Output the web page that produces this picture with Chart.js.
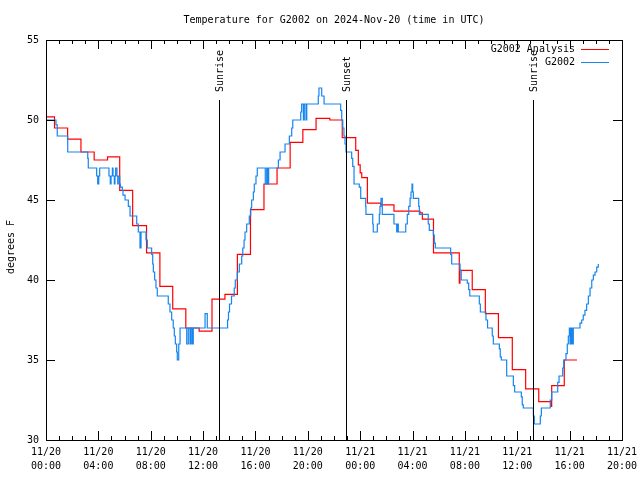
<!DOCTYPE html>
<html>
<head>
<meta charset="utf-8">
<script src="https://cdn.jsdelivr.net/npm/chart.js@4.4.1/dist/chart.umd.min.js"></script>
<style>
html, body { margin: 0; padding: 0; background: #fff; }
#wrap { width: 640px; height: 480px; }
</style>
</head>
<body>
<div id="wrap"><canvas id="chart" width="640" height="480"></canvas></div>
<script>
// hours since 2024-11-20 00:00 UTC
var analysisHours = [0, 0.65, 1.65, 2.67, 3.68, 4.7, 5.63, 6.62, 7.68, 8.7, 9.68,
    10.68, 11.7, 12.68, 13.67, 14.62, 15.62, 16.65, 17.65, 18.65, 19.62,
    20.63, 21.68, 22.63, 23.66, 23.86, 24.0, 24.12, 24.55, 25.57, 26.58,
    28.57, 28.75, 29.6, 31.57, 31.62, 32.56, 33.56, 34.56, 35.62, 36.64,
    37.64, 38.58, 38.63, 39.59, 40.56];
var analysisTemps = [50.2, 49.5, 48.8, 48.0, 47.5, 47.7, 45.6, 43.4, 41.7, 39.6, 38.2,
    37.0, 36.8, 38.8, 39.1, 41.6, 44.4, 46.0, 47.0, 48.6, 49.4,
    50.1, 50.0, 48.9, 48.1, 47.2, 46.7, 46.4, 44.8, 44.7, 44.3,
    44.2, 43.8, 41.7, 39.8, 40.6, 39.4, 37.9, 36.4, 34.4, 33.2,
    32.4, 32.1, 33.4, 35.0, 35.0];

var obsHours = [0, 0.76, 0.86, 1.66, 3.19, 3.23, 3.87, 3.95, 4.03, 4.1,
    4.81, 4.91, 4.97, 5.07, 5.12, 5.22, 5.27, 5.32, 5.42, 5.48,
    5.52, 5.63, 5.68, 5.83, 5.88, 6.04, 6.29, 6.42, 6.93, 7.05,
    7.18, 7.26, 7.64, 7.74, 8.07, 8.15, 8.2, 8.3, 8.4, 8.5,
    9.34, 9.47, 9.6, 9.72, 9.8, 9.88, 9.98, 10.03, 10.14, 10.24,
    10.75, 10.87, 11.0, 11.08, 11.18, 11.25, 12.15, 12.32, 13.87, 13.94,
    14.02, 14.17, 14.38, 14.46, 14.61, 14.77, 14.95, 15.03, 15.13, 15.2,
    15.33, 15.53, 15.64, 15.71, 15.84, 15.91, 16.04, 16.14, 16.75, 16.86,
    16.94, 17.01, 17.75, 17.88, 18.26, 18.59, 18.77, 18.85, 19.46, 19.53,
    19.66, 19.73, 19.86, 19.92, 20.8, 20.85, 21.06, 21.24, 22.51, 22.59,
    22.67, 22.76, 22.84, 22.92, 23.35, 23.43, 23.53, 23.93, 24.04, 24.42,
    24.44, 24.96, 25.0, 25.31, 25.46, 25.51, 25.59, 25.69, 26.58, 26.79,
    26.87, 26.91, 27.48, 27.6, 27.71, 27.81, 27.88, 27.96, 28.01, 28.06,
    28.47, 28.52, 29.2, 29.28, 29.59, 29.66, 29.74, 30.91, 30.99, 31.63,
    31.72, 32.18, 32.29, 32.37, 33.1, 33.18, 33.61, 33.73, 34.09, 34.17,
    34.63, 34.7, 34.78, 35.19, 35.7, 35.8, 36.31, 36.38, 36.46, 37.23,
    37.3, 37.76, 37.84, 38.52, 38.63, 39.09, 39.19, 39.47, 39.55, 39.72,
    39.82, 39.9, 39.98, 40.03, 40.08, 40.13, 40.18, 40.23, 40.28, 40.79,
    40.92, 41.04, 41.17, 41.3, 41.43, 41.56, 41.69, 41.81, 41.94, 42.07,
    42.19];
var obsTemps = [50.0, 49.7, 49.0, 48.0, 47.6, 47.0, 46.5, 46.0, 46.5, 47.0,
    46.5, 46.0, 46.5, 47.0, 46.5, 46.0, 46.5, 47.0, 46.5, 46.0,
    46.5, 46.0, 45.8, 45.6, 45.3, 45.0, 44.6, 44.0, 43.5, 43.0,
    42.0, 43.0, 42.5, 42.0, 41.6, 41.0, 40.5, 40.0, 39.5, 39.0,
    38.5, 38.0, 37.5, 37.0, 36.5, 36.0, 35.5, 35.0, 36.0, 37.0,
    36.0, 37.0, 36.0, 37.0, 36.0, 37.0, 37.9, 37.0, 37.5, 38.0,
    38.5, 39.0, 39.5, 40.0, 40.5, 41.0, 41.5, 42.0, 42.5, 43.0,
    43.5, 44.0, 44.5, 45.0, 45.5, 46.0, 46.5, 47.0, 46.0, 47.0,
    46.0, 47.0, 47.5, 48.0, 48.5, 49.0, 49.5, 50.0, 50.5, 51.0,
    50.0, 51.0, 50.0, 51.0, 51.5, 52.0, 51.5, 51.0, 50.6, 50.0,
    49.5, 49.0, 48.5, 48.0, 47.6, 47.1, 46.0, 45.8, 45.1, 44.6,
    44.1, 43.5, 43.0, 43.5, 44.1, 44.6, 45.1, 44.1, 43.5, 43.0,
    43.5, 43.0, 43.5, 44.1, 44.6, 45.1, 45.5, 46.0, 45.5, 45.1,
    44.6, 44.1, 43.5, 43.1, 42.8, 42.3, 42.0, 41.6, 41.0, 40.6,
    40.0, 39.8, 39.4, 39.0, 38.5, 38.0, 37.5, 37.0, 36.5, 36.0,
    35.7, 35.2, 35.0, 34.0, 33.4, 33.0, 32.7, 32.2, 32.0, 31.5,
    31.0, 31.5, 32.0, 32.5, 33.0, 33.6, 34.0, 34.5, 35.0, 35.4,
    36.0, 36.5, 37.0, 36.0, 37.0, 36.0, 37.0, 36.0, 37.0, 37.3,
    37.5, 37.8, 38.1, 38.5, 39.0, 39.5, 40.0, 40.3, 40.5, 40.8,
    41.0];

var xTickDates = ['11/20', '11/20', '11/20', '11/20', '11/20', '11/20',
                  '11/21', '11/21', '11/21', '11/21', '11/21', '11/21'];
var xTickTimes = ['00:00', '04:00', '08:00', '12:00', '16:00', '20:00',
                  '00:00', '04:00', '08:00', '12:00', '16:00', '20:00'];

var sunHours = [13.22, 22.92, 37.21];
var sunLabels = ['Sunrise', 'Sunset', 'Sunrise'];

var FONT = '"DejaVu Sans Mono", "Liberation Mono", monospace';
var RED = '#ff0000';
var BLUE = '#1685f0';

function points(xs, ys) {
    return xs.map(function(x, i) { return { x: x, y: ys[i] }; });
}

// frame, inward ticks, sun markers, key and y label in the gnuplot manner
var gnuplotLook = {
    id: 'gnuplotLook',
    afterDatasetsDraw: function(chart) {
        var ctx = chart.ctx, a = chart.chartArea;
        var xs = chart.scales.x, ys = chart.scales.y;
        ctx.save();
        ctx.strokeStyle = '#000';
        ctx.fillStyle = '#000';
        ctx.lineWidth = 1;

        ctx.strokeRect(a.left + 0.5, a.top + 0.5, a.right - a.left, a.bottom - a.top);

        ctx.beginPath();
        for (var h = xs.min; h <= xs.max; h++) {
            var px = Math.round(xs.getPixelForValue(h)) + 0.5;
            var len = (h % 4 === 0) ? 9 : 4;
            ctx.moveTo(px, a.bottom); ctx.lineTo(px, a.bottom - len);
            ctx.moveTo(px, a.top); ctx.lineTo(px, a.top + len);
        }
        ys.ticks.forEach(function(t) {
            var py = Math.round(ys.getPixelForValue(t.value)) + 0.5;
            ctx.moveTo(a.left, py); ctx.lineTo(a.left + 9, py);
            ctx.moveTo(a.right, py); ctx.lineTo(a.right - 9, py);
        });
        ctx.stroke();

        ctx.font = '10px ' + FONT;
        sunHours.forEach(function(hr, i) {
            var px = Math.round(xs.getPixelForValue(hr)) + 0.5;
            ctx.beginPath();
            ctx.moveTo(px, a.top + 60);
            ctx.lineTo(px, a.bottom);
            ctx.stroke();
            ctx.save();
            ctx.translate(px + 1, a.top + 52);
            ctx.rotate(-Math.PI / 2);
            ctx.textAlign = 'left';
            ctx.textBaseline = 'middle';
            ctx.fillText(sunLabels[i], 0, 0);
            ctx.restore();
        });

        // key
        var keys = [['G2002 Analysis', RED], ['G2002', BLUE]];
        ctx.textAlign = 'right';
        ctx.textBaseline = 'middle';
        keys.forEach(function(k, i) {
            var y = a.top + 9 + i * 13;
            ctx.fillStyle = '#000';
            ctx.fillText(k[0], a.right - 47, y);
            ctx.strokeStyle = k[1];
            ctx.beginPath();
            ctx.moveTo(a.right - 41, y + 0.5);
            ctx.lineTo(a.right - 13, y + 0.5);
            ctx.stroke();
        });

        // y axis label
        ctx.fillStyle = '#000';
        ctx.translate(11, 247);
        ctx.rotate(-Math.PI / 2);
        ctx.textAlign = 'center';
        ctx.fillText('degrees F', 0, 0);
        ctx.restore();
    }
};

new Chart(document.getElementById('chart'), {
    type: 'line',
    data: {
        datasets: [
            {
                label: 'G2002 Analysis',
                data: points(analysisHours, analysisTemps),
                borderColor: RED,
                borderWidth: 1.2,
                pointRadius: 0,
                stepped: true,
                fill: false,
                order: 1
            },
            {
                label: 'G2002',
                data: points(obsHours, obsTemps),
                borderColor: BLUE,
                borderWidth: 1.2,
                pointRadius: 0,
                stepped: true,
                fill: false,
                order: 0
            }
        ]
    },
    options: {
        responsive: false,
        animation: false,
        devicePixelRatio: 1,
        layout: { padding: { left: 0, right: 18, top: 0, bottom: 0 } },
        plugins: {
            legend: { display: false },
            tooltip: { enabled: false },
            title: {
                display: true,
                fullSize: false,
                text: 'Temperature for G2002 on 2024-Nov-20 (time in UTC)',
                color: '#000',
                font: { family: FONT, size: 10, weight: 'normal', lineHeight: 1.2 },
                padding: { top: 14, bottom: 14 }
            }
        },
        scales: {
            x: {
                type: 'linear',
                min: 0,
                max: 44,
                afterFit: function(s) {
                    s.height = 40;
                    s.paddingLeft = 0;
                    s.paddingRight = 0;
                },
                grid: { display: false, drawTicks: false },
                border: { display: false },
                ticks: {
                    stepSize: 4,
                    autoSkip: false,
                    maxRotation: 0,
                    padding: 5,
                    color: '#000',
                    font: { family: FONT, size: 10, lineHeight: 1.4 },
                    callback: function(v, i) { return [xTickDates[i], xTickTimes[i]]; }
                }
            },
            y: {
                min: 30,
                max: 55,
                afterFit: function(s) { s.width = 46; },
                grid: { display: false, drawTicks: false },
                border: { display: false },
                ticks: {
                    stepSize: 5,
                    padding: 7,
                    color: '#000',
                    font: { family: FONT, size: 10 }
                }
            }
        }
    },
    plugins: [gnuplotLook]
});
</script>
</body>
</html>
